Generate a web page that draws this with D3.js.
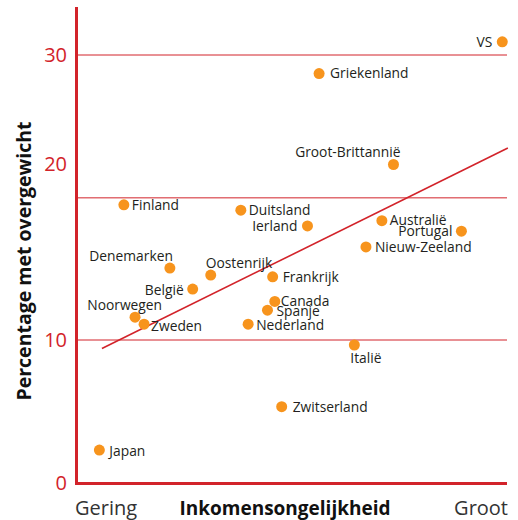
<!DOCTYPE html>
<html><head><meta charset="utf-8">
<script src="https://cdn.jsdelivr.net/npm/d3@7"></script>
<style>html,body{margin:0;padding:0;background:#fff;}svg{display:block;font-family:"Open Sans",sans-serif;}</style>
</head><body>
<svg id="chart" width="518" height="520"></svg>
<script>
// ---- data ----
const countries = ["VS","Griekenland","Groot-Brittannië","Ierland","Australië","Portugal","Nieuw-Zeeland","Duitsland","Frankrijk","Oostenrijk","België","Canada","Spanje","Nederland","Denemarken","Noorwegen","Zweden","Finland","Japan","Italië","Zwitserland"];
const inequality = [98.9,56.3,73.6,53.6,70.9,89.4,67.2,38.1,45.5,31.1,26.9,46.0,44.3,39.8,21.6,13.5,15.6,10.9,5.2,64.5,47.6];
const overweight = [31.2,28.3,20.0,16.5,16.8,16.2,15.3,17.4,13.6,13.7,12.9,12.2,11.7,10.9,14.1,11.3,10.9,17.7,2.3,9.65,5.34];
const yTicks = [0,10,20,30];
const gridValues = [10,18.1,30];
const trendX = [5.8,100.2];
const trendY = [9.4,21.5];
const xEndLabels = ["Gering","Groot"];
const xTitle = "Inkomensongelijkheid";
const yTitle = "Percentage met overgewicht";

// label placement (presentation only)
const labelPlace = {
  "VS":[-10,0,"end"],"Griekenland":[11,0,"start"],"Groot-Brittannië":[7,-12,"end"],
  "Ierland":[-10,0,"end"],"Australië":[8,0,"start"],"Portugal":[-9,0,"end"],
  "Nieuw-Zeeland":[9,0,"start"],"Duitsland":[8,0,"start"],"Frankrijk":[10,0,"start"],
  "Oostenrijk":[-5,-12,"start"],"België":[-9,1,"end"],"Canada":[6,0,"start"],
  "Spanje":[9,1,"start"],"Nederland":[8,1,"start"],"Denemarken":[3,-12,"end"],
  "Noorwegen":[27,-12,"end"],"Zweden":[7,2,"start"],"Finland":[8,0,"start"],
  "Japan":[10,1,"start"],"Italië":[-4,13,"start"],"Zwitserland":[11,1,"start"]
};

const red = "#d2232a", orange = "#f7941d";
const svg = d3.select("#chart");
const x = d3.scaleLinear().domain([0,100]).range([77,507]);
const y = d3.scaleLinear().domain([0,10,20,30]).range([483,340,164.5,55]);
const yv = v => v > 30 ? y(30) - (v-30)*(y(20)-y(30))/10 : y(v);

// gridlines
svg.append("g").selectAll("line").data(gridValues).join("line")
  .attr("x1",x(0)).attr("x2",x(100)).attr("y1",d=>yv(d)).attr("y2",d=>yv(d))
  .attr("stroke",red).attr("stroke-width",1);

// y axis labels via d3 axis
const yAxis = d3.axisLeft(y).tickValues(yTicks).tickSize(0).tickPadding(10).tickFormat(d3.format("d"));
const gy = svg.append("g").attr("transform","translate(77,0)").call(yAxis);
gy.select(".domain").remove();
gy.selectAll("text").attr("fill",red).attr("font-size",20).attr("font-family","'Open Sans',sans-serif");

// axis lines
svg.append("line").attr("x1",76.5).attr("x2",76.5).attr("y1",7).attr("y2",485)
  .attr("stroke",red).attr("stroke-width",3);
svg.append("line").attr("x1",75).attr("x2",507).attr("y1",483.5).attr("y2",483.5)
  .attr("stroke",red).attr("stroke-width",3);

// trend line
svg.append("path").datum(trendX.map((d,i)=>[d,trendY[i]]))
  .attr("d", d3.line().x(d=>x(d[0])).y(d=>yv(d[1])))
  .attr("stroke",red).attr("stroke-width",1.6).attr("fill","none");

const pts = countries.map((c,i)=>({c, xv:inequality[i], yv:overweight[i]}));
svg.append("g").selectAll("circle").data(pts).join("circle")
  .attr("cx",d=>x(d.xv)).attr("cy",d=>yv(d.yv)).attr("r",5.5).attr("fill",orange);
svg.append("g").selectAll("text").data(pts).join("text")
  .attr("x",d=>x(d.xv)+labelPlace[d.c][0]).attr("y",d=>yv(d.yv)+labelPlace[d.c][1])
  .attr("dy","0.35em").attr("text-anchor",d=>labelPlace[d.c][2])
  .attr("font-size",13.8).attr("fill","#231f20").text(d=>d.c);

// x labels
svg.append("text").attr("x",75).attr("y",515).attr("font-size",20).attr("fill","#333").text(xEndLabels[0]);
svg.append("text").attr("x",508).attr("y",515).attr("text-anchor","end").attr("font-size",20).attr("fill","#333").text(xEndLabels[1]);
svg.append("text").attr("x",285).attr("y",515).attr("text-anchor","middle").attr("font-size",19).attr("font-weight","bold").attr("fill","#111").text(xTitle);
// y title
svg.append("text").attr("transform","translate(31,261) rotate(-90)").attr("text-anchor","middle")
  .attr("font-size",19.5).attr("font-weight","bold").attr("fill","#111").text(yTitle);
</script>
</body></html>
